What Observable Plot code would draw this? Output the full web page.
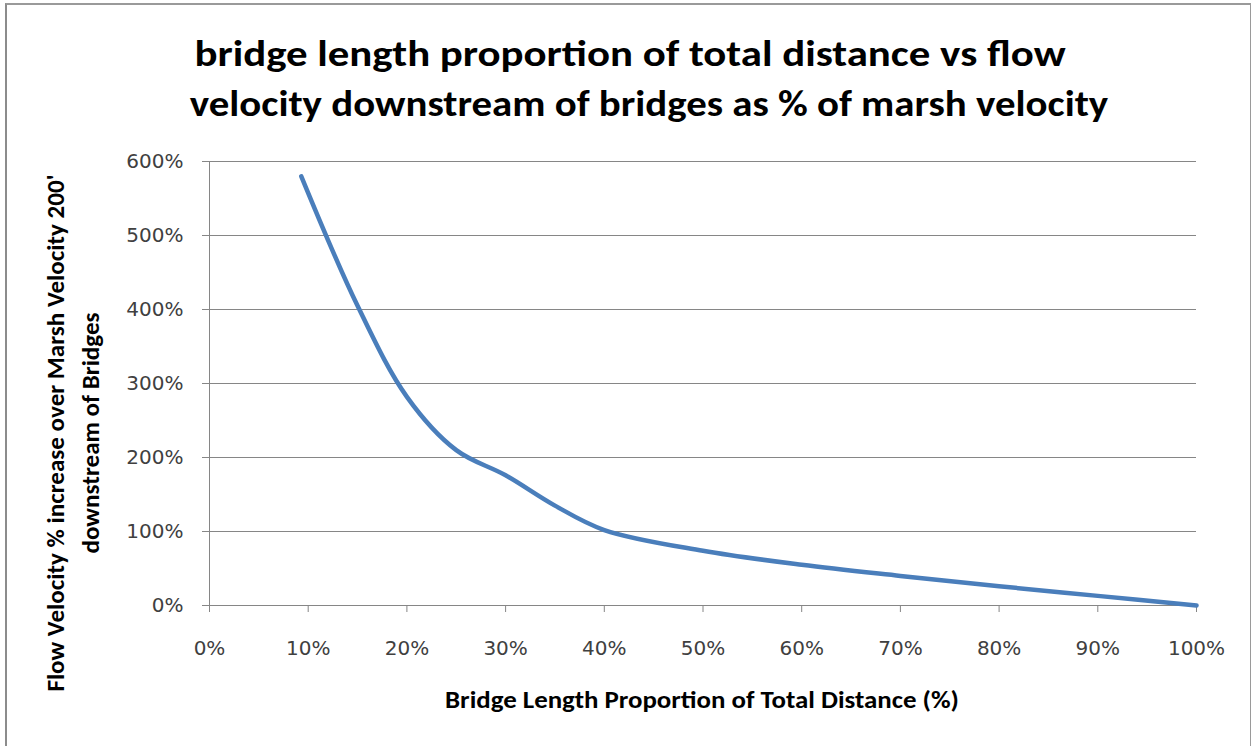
<!DOCTYPE html>
<html>
<head>
<meta charset="utf-8">
<script src="https://cdn.jsdelivr.net/npm/d3@7"></script>
<script src="https://cdn.jsdelivr.net/npm/@observablehq/plot@0.6"></script>
<style>
  html, body { margin: 0; padding: 0; background: #fff; }
  #chart { position: relative; width: 1253px; height: 746px; overflow: hidden; font-family: Carlito, Calibri, Lato, sans-serif; }
  #frame { position: absolute; left: 5px; top: 3px; width: 1246px; height: 760px; border-left: 2px solid #8c8c8c; border-top: 2px solid #9a9a9a; border-right: 1px solid #9a9a9a; box-sizing: border-box; }
  .t { position: absolute; white-space: nowrap; font-weight: bold; color: #000; }
  #title1 { left: 630px; top: 54px; font-size: 36px; transform: translate(-50%, -50%) scaleX(1.19); }
  #title2 { left: 649px; top: 104px; font-size: 36px; transform: translate(-50%, -50%) scaleX(1.135); }
  #plot { position: absolute; left: 0; top: 140px; }
  #ylab { left: 73px; top: 433px; transform: translate(-50%, -50%) rotate(-90deg) scaleX(1.045); text-align: center; font-size: 24px; line-height: 35px; }
  #xlab { left: 702px; top: 699px; transform: translate(-50%, -50%) scaleX(1.12); font-size: 24px; }
</style>
</head>
<body>
<div id="chart">
  <div id="frame"></div>
  <div class="t" id="title1">bridge length proportion of total distance vs flow</div>
  <div class="t" id="title2">velocity downstream of bridges as % of marsh velocity</div>
  <div id="plot"></div>
  <div class="t" id="ylab">Flow Velocity % increase over Marsh Velocity 200'<br>downstream of Bridges</div>
  <div class="t" id="xlab">Bridge Length Proportion of Total Distance (%)</div>
</div>
<script>
const bridgeProportion = [9.3, 15, 20, 25, 30, 35, 40, 50, 60, 70, 80, 90, 100];
const velocityIncrease = [580, 405, 282, 210, 176, 135, 102, 74, 55, 40, 26, 13, 0];
const xTicks = [0, 10, 20, 30, 40, 50, 60, 70, 80, 90, 100];
const yTicks = [0, 100, 200, 300, 400, 500, 600];

const data = bridgeProportion.map((x, i) => ({x, y: velocityIncrease[i]}));

const chart = Plot.plot({
  width: 1253,
  height: 606,
  marginTop: 21,
  marginBottom: 141,
  marginLeft: 209,
  marginRight: 57,
  style: {fontFamily: "'DejaVu Sans', sans-serif", fontSize: "20px", color: "#404040", background: "transparent"},
  x: {domain: [0, 100]},
  y: {domain: [0, 600]},
  marks: [
    Plot.gridY(yTicks.filter(d => d > 0), {stroke: "#868686", strokeOpacity: 1, strokeWidth: 1}),
    Plot.ruleX([0], {stroke: "#868686"}),
    Plot.ruleY([0], {stroke: "#868686"}),
    Plot.axisX({ticks: xTicks, tickFormat: d => d + "%", tickSize: 7, tickPadding: 28, stroke: "#868686", fill: "#404040", label: null}),
    Plot.axisY({ticks: yTicks, tickFormat: d => d + "%", tickSize: 7, tickPadding: 19, stroke: "#868686", fill: "#404040", label: null}),
    Plot.line(data, {x: "x", y: "y", curve: "catmull-rom", stroke: "#4A7EBB", strokeWidth: 4.5, strokeLinecap: "round"})
  ]
});
document.getElementById("plot").appendChild(chart);
</script>
</body>
</html>
